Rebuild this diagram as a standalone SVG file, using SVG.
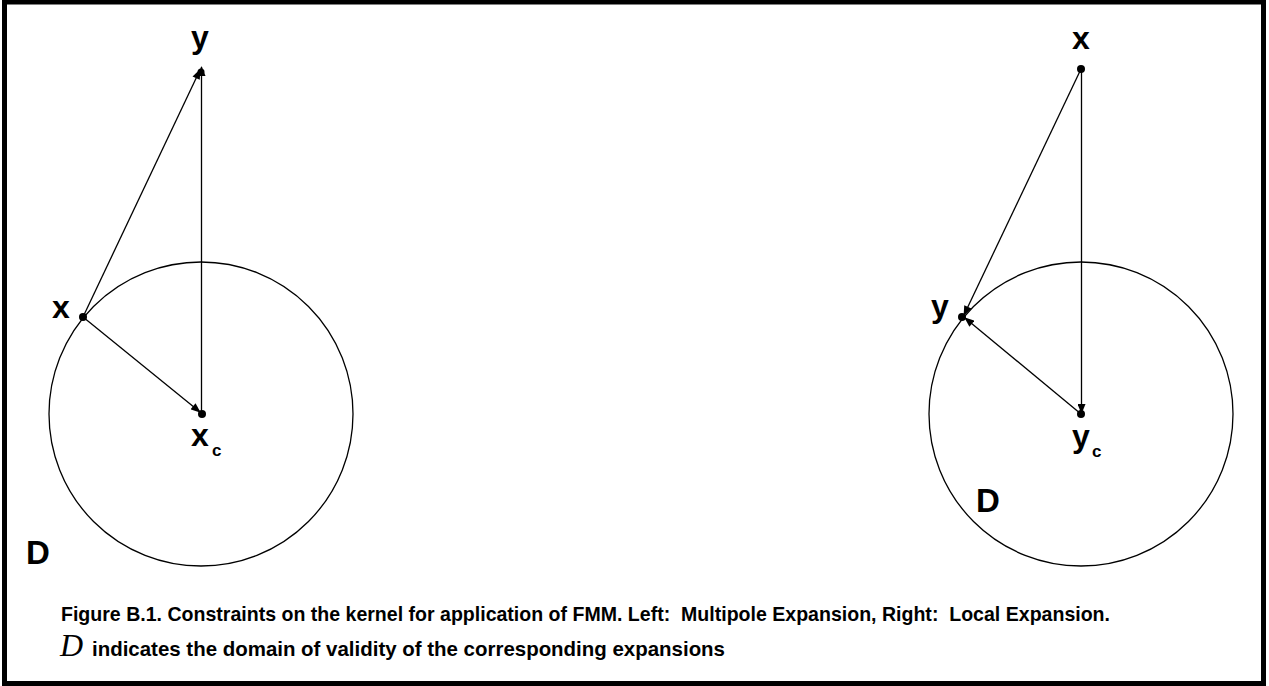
<svg xmlns="http://www.w3.org/2000/svg" width="1269" height="686" viewBox="0 0 1269 686">
<style>
.ln{stroke:#000;stroke-width:1.3;fill:none}
.circ{stroke:#000;stroke-width:1.3;fill:none}
.lbl{font-family:"Liberation Sans",Arial,sans-serif;font-weight:bold;font-size:32px;fill:#000;text-anchor:middle}
.sub{font-family:"Liberation Sans",Arial,sans-serif;font-weight:bold;font-size:17px;fill:#000}
.cap{font-family:"Liberation Sans",Arial,sans-serif;font-weight:bold;font-size:20.5px;fill:#000}
.math{font-family:"Liberation Serif","Times New Roman",serif;font-style:italic;font-size:32px;fill:#000}
</style>
<defs>
<marker id="arr" viewBox="0 0 10 8" refX="9" refY="4" markerWidth="11" markerHeight="8" markerUnits="userSpaceOnUse" orient="auto">
<path d="M0,0 L10,4 L0,8 Z" fill="#000"/>
</marker>
</defs>
<rect x="4.5" y="2" width="1259" height="681.5" fill="#fff" stroke="#000" stroke-width="5"/>
<g id="connectors">
<circle class="circ" cx="201" cy="414" r="152"/>
<circle class="circ" cx="1081" cy="414" r="152"/>
<line class="ln" x1="83" y1="317" x2="200" y2="70" marker-end="url(#arr)"/>
<line class="ln" x1="201.5" y1="414" x2="201.5" y2="67" marker-end="url(#arr)"/>
<line class="ln" x1="83" y1="317" x2="200" y2="412" marker-end="url(#arr)"/>
<line class="ln" x1="1081" y1="69" x2="964" y2="315" marker-end="url(#arr)"/>
<line class="ln" x1="1081.5" y1="69" x2="1081.5" y2="413" marker-end="url(#arr)"/>
<line class="ln" x1="1081" y1="414" x2="965" y2="318" marker-end="url(#arr)"/>
</g>
<g id="left-y"><circle cx="201" cy="72" r="3.5"/><text class="lbl" x="200" y="48">y</text></g>
<g id="left-x"><circle cx="83" cy="317" r="4"/><text class="lbl" x="61" y="318">x</text></g>
<g id="left-xc"><circle cx="202" cy="414" r="4"/><text class="lbl" x="200" y="446">x</text><text class="sub" x="212" y="456">c</text></g>
<g id="left-D"><text class="lbl" x="38" y="564" style="font-size:33px">D</text></g>
<g id="right-x"><circle cx="1081" cy="69" r="4"/><text class="lbl" x="1081" y="49">x</text></g>
<g id="right-y"><circle cx="962" cy="317" r="4"/><text class="lbl" x="940" y="317">y</text></g>
<g id="right-yc"><circle cx="1081" cy="414" r="4"/><text class="lbl" x="1081" y="447">y</text><text class="sub" x="1092" y="457">c</text></g>
<g id="right-D"><text class="lbl" x="988" y="512" style="font-size:33px">D</text></g>
<g id="caption">
<text class="cap" x="61" y="621" textLength="1049" lengthAdjust="spacingAndGlyphs" xml:space="preserve">Figure B.1. Constraints on the kernel for application of FMM. Left:  Multipole Expansion, Right:  Local Expansion.</text>
<text class="math" x="60" y="656">D</text>
<text class="cap" x="92" y="656" textLength="633" lengthAdjust="spacingAndGlyphs">indicates the domain of validity of the corresponding expansions</text>
</g>
</svg>
